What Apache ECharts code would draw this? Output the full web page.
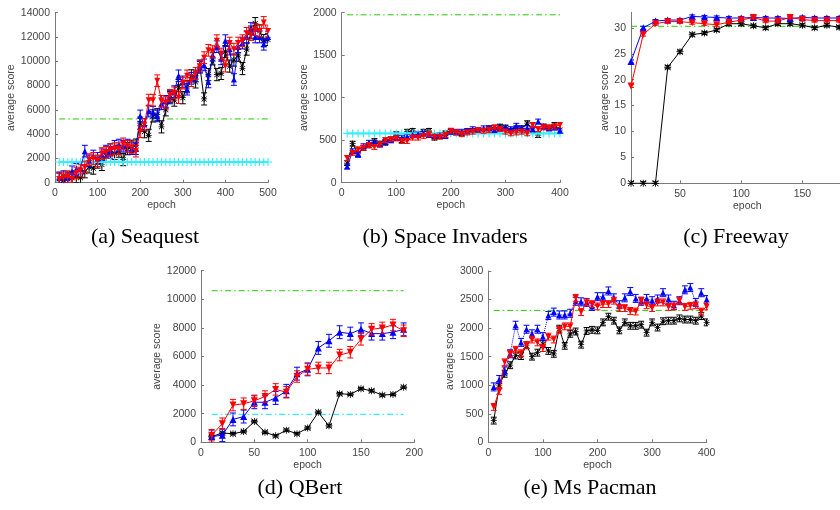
<!DOCTYPE html>
<html><head><meta charset="utf-8">
<script src="https://cdn.jsdelivr.net/npm/echarts@6/dist/echarts.min.js"></script>
<style>html,body{margin:0;padding:0;background:#fff}#c{width:840px;height:510px}</style>
</head><body><div id="c"></div>
<script>
// ---------- DATA ----------
const seaquestEpochs = [10,20,30,40,50,60,70,80,90,100,110,120,130,140,150,160,170,180,190,200,210,220,230,240,250,260,270,280,290,300,310,320,330,340,350,360,370,380,390,400,410,420,430,440,450,460,470,480,490,500];
const seaquestBlack = [300,200,300,400,500,400,900,1300,1200,1700,1500,2200,2700,2400,2600,1900,2800,3000,3100,4900,4200,3900,5500,5600,4600,6000,7000,6800,8000,7000,7900,8800,8300,9600,6900,8900,10200,8900,9000,10800,9600,10100,10500,9400,11000,12400,13100,12500,11700,11800];
const seaquestBlue = [400,500,400,900,1100,1200,2600,1800,2200,2000,2300,2600,2500,3000,3100,3000,3100,2800,2800,5500,4800,5900,5800,5500,6500,6700,7100,7500,8800,8300,7700,8600,8800,9500,9700,8300,10500,11200,10200,11700,11000,8500,11200,11500,12000,12700,12000,12000,11400,12000];
const seaquestRed = [300,400,500,300,800,1000,1300,1900,2000,1800,2400,2500,2700,2800,2800,3200,3000,2900,2600,4200,4800,6800,6800,8400,6700,6600,7200,7400,7000,8200,8800,8400,9000,9600,10300,10900,10800,11700,10600,9600,11500,11000,11500,11700,12300,12200,12600,12500,13200,12500];
const seaquestErr = {black: 500, blue: 480, red: 480};
const seaquestGreen = 5250, seaquestCyan = 1700;

const spaceEpochs = [10,20,30,40,50,60,70,80,90,100,110,120,130,140,150,160,170,180,190,200,210,220,230,240,250,260,270,280,290,300,310,320,330,340,350,360,370,380,390,400];
const spaceBlack = [230,460,340,410,440,490,460,470,510,570,500,600,610,560,600,610,530,550,580,600,590,580,600,610,620,610,640,620,660,650,610,640,640,700,620,560,660,640,680,620];
const spaceBlue = [190,370,330,430,470,470,450,480,500,530,530,540,560,570,580,560,550,560,550,600,600,600,610,630,620,640,640,620,640,640,630,670,640,640,630,720,660,640,650,610];
const spaceRed = [290,350,390,410,440,420,450,500,510,520,490,490,530,530,550,570,540,540,560,610,590,570,590,600,620,610,620,650,630,600,580,590,600,580,680,630,650,650,660,680];
const spaceErr = {black: 28, blue: 28, red: 28};
const spaceGreen = 1975, spaceCyan = 580;

const freewayEpochs = [10,20,30,40,50,60,70,80,90,100,110,120,130,140,150,160,170,180,190,200];
const freewayBlack = [0,0,0,22.4,25.4,28.7,29,29.6,30.8,30.8,30.4,30,30.8,30.8,30.5,30,30.5,30.1,30.2,30.2];
const freewayBlue = [23.5,30,31.3,31.5,31.5,32.2,32.1,32,31.9,31.9,32,31.9,31.9,31.8,32,31.9,31.9,31.9,31.9,31.9];
const freewayRed = [18.8,28.7,30.8,31.2,31.2,31,30.8,30.6,31.1,31.5,32,31.3,31.3,32,31.6,31.4,31.4,31.4,31.4,31.4];
const freewayErr = {black: 0.3, blue: 0.3, red: 0.3};
const freewayGreen = 30.3;

const qbertEpochs = [10,20,30,40,50,60,70,80,90,100,110,120,130,140,150,160,170,180,190];
const qbertBlack = [400,650,600,750,1450,700,450,850,600,1000,2100,1150,3400,3350,3750,3600,3300,3350,3850];
const qbertBlue = [400,500,1600,1800,2800,2800,3100,3600,4800,5100,6600,7100,7700,7600,7900,7600,7600,7700,7900];
const qbertRed = [500,1300,2600,2700,2900,3200,3700,3500,4600,5100,5200,5200,6100,6300,7200,7900,8000,8200,7800];
const qbertErr = {black: 80, blue: 450, red: 400};
const qbertGreen = 10600, qbertCyan = 1950;

const pacmanEpochs = [10,20,30,40,50,60,70,80,90,100,110,120,130,140,150,160,170,180,190,200,210,220,230,240,250,260,270,280,290,300,310,320,330,340,350,360,370,380,390,400];
const pacmanBlack = [380,1000,1200,1350,1520,1510,1700,1500,1570,1720,1600,1550,1990,1690,1900,1940,1710,1950,1970,1960,2100,2200,2130,1960,2100,2040,2040,2060,1920,2100,2010,2120,2130,2130,2170,2150,2150,2130,2210,2100];
const pacmanBlue = [970,1100,1250,1550,2050,1750,1980,1900,1980,1850,2220,2280,2230,2230,2260,2470,2460,2450,2380,2550,2550,2650,2530,2410,2530,2640,2520,2470,2520,2480,2510,2620,2510,2400,2480,2670,2710,2450,2620,2500];
const pacmanRed = [620,900,1400,1550,1620,1560,1700,1800,1750,1650,1850,1800,1970,2030,2030,2530,2280,2450,2420,2380,2420,2420,2480,2350,2350,2300,2290,2480,2400,2350,2450,2450,2370,2380,2480,2370,2390,2400,2290,2380];
const pacmanErr = {black: 60, blue: 70, red: 60};
const pacmanGreen = 2310;

const titles = ['(a) Seaquest', '(b) Space Invaders', '(c) Freeway', '(d) QBert', '(e) Ms Pacman'];
const xTicksFreeway = [50, 100, 150, 200];
const yTicksFreeway = [0, 5, 10, 15, 20, 25, 30];

// ---------- STYLE / LAYOUT ----------
const C_BLACK = '#000000', C_BLUE = '#0000ff', C_RED = '#ff0000', C_CYAN = '#33eeff', C_GREEN = '#22cc00';
const ASTER = 'path://M0,4.4H10V5.6H0Z M4.4,0H5.6V10H4.4Z M1.2,0.4L9.6,8.8L8.8,9.6L0.4,1.2Z M8.8,0.4L9.6,1.2L1.2,9.6L0.4,8.8Z';
const PLUS = 'path://M0,4.3H10V5.7H0Z M4.3,0H5.7V10H4.3Z';
const DASHDOT = [6, 3, 1.5, 3];
const FONT = 'Liberation Sans, Arial, sans-serif';

const grids = [
  {left: 55, top: 12.7, width: 213, height: 170},
  {left: 341.7, top: 12.7, width: 218.3, height: 170},
  {left: 631, top: 12.3, width: 232.6, height: 171},
  {left: 201, top: 270.7, width: 213.3, height: 171.6},
  {left: 488.3, top: 271, width: 218.4, height: 171.3}
];
const yNameGaps = [31, 27, 16, 31, 28];
const xRanges = [[0, 500, 100], [0, 400, 100], [10, 200, null], [0, 200, 50], [0, 400, 100]];
const yRanges = [[0, 14000, 2000], [0, 2000, 500], [0, 33, null], [0, 12000, 2000], [0, 3000, 500]];

function axisCommon() {
  return {
    axisLine: {show: true, lineStyle: {color: '#7a7a7a', width: 1}},
    axisTick: {show: true, inside: true, length: 3, lineStyle: {color: '#7a7a7a'}},
    axisLabel: {color: '#454545', fontSize: 10.5, fontFamily: FONT, margin: 5, formatter: v => String(v)},
    splitLine: {show: false},
    nameTextStyle: {color: '#454545', fontSize: 10.5, fontFamily: FONT}
  };
}

const xAxes = xRanges.map((r, i) => {
  const ax = Object.assign(axisCommon(), {
    type: 'value', gridIndex: i, min: r[0], max: r[1],
    name: 'epoch', nameLocation: 'middle', nameGap: 16
  });
  if (r[2] !== null) ax.interval = r[2];
  else {
    ax.axisLabel.customValues = xTicksFreeway;
    ax.axisTick.customValues = xTicksFreeway;
  }
  return ax;
});
const yAxes = yRanges.map((r, i) => {
  const ax = Object.assign(axisCommon(), {
    type: 'value', gridIndex: i, min: r[0], max: r[1],
    name: 'average score', nameLocation: 'middle', nameGap: yNameGaps[i]
  });
  if (r[2] !== null) ax.interval = r[2];
  else {
    ax.axisLabel.customValues = yTicksFreeway;
    ax.axisTick.customValues = yTicksFreeway;
  }
  return ax;
});

function lineS(idx, xs, ys, color, symbol, opts) {
  opts = opts || {};
  return {
    type: 'line', xAxisIndex: idx, yAxisIndex: idx,
    data: xs.map((x, k) => [x, ys[k]]),
    symbol: symbol, symbolSize: opts.size || 6, symbolRotate: opts.rotate || 0,
    showSymbol: symbol !== 'none',
    lineStyle: {color: color, width: opts.width || 1, type: opts.lineType || 'solid'},
    itemStyle: {color: color},
    z: opts.z || 3, silent: true, animation: false, clip: true
  };
}
function errS(idx, xs, ys, err, color, z) {
  return {
    type: 'custom', xAxisIndex: idx, yAxisIndex: idx, silent: true, animation: false, clip: true, z: z || 2,
    data: xs.map((x, k) => [x, ys[k], err]),
    encode: {x: 0, y: 1},
    renderItem: function (params, api) {
      const x = api.value(0), y = api.value(1), e = api.value(2);
      const lo = api.coord([x, y - e]), hi = api.coord([x, y + e]);
      const w = 3;
      const st = {stroke: color, lineWidth: 1};
      return {type: 'group', children: [
        {type: 'line', shape: {x1: lo[0], y1: lo[1], x2: hi[0], y2: hi[1]}, style: st},
        {type: 'line', shape: {x1: lo[0] - w, y1: lo[1], x2: lo[0] + w, y2: lo[1]}, style: st},
        {type: 'line', shape: {x1: hi[0] - w, y1: hi[1], x2: hi[0] + w, y2: hi[1]}, style: st}
      ]};
    }
  };
}
function hline(idx, x0, x1, v, color, type, width) {
  return {
    type: 'line', xAxisIndex: idx, yAxisIndex: idx, data: [[x0, v], [x1, v]],
    symbol: 'none', lineStyle: {color: color, width: width || 1, type: type}, z: 1, silent: true, animation: false
  };
}
function cyanPlus(idx, xs, v) {
  return {
    type: 'line', xAxisIndex: idx, yAxisIndex: idx, data: xs.map(x => [x, v]),
    symbol: PLUS, symbolSize: 8, lineStyle: {color: C_CYAN, width: 2}, itemStyle: {color: C_CYAN},
    z: 4, silent: true, animation: false
  };
}
function game(idx, xs, blk, blu, red, err, o) {
  o = o || {};
  const s = [];
  s.push(errS(idx, xs, blk, err.black, C_BLACK, 2));
  s.push(lineS(idx, xs, blk, C_BLACK, ASTER, {size: o.size || 7, z: 3}));
  s.push(errS(idx, xs, blu, err.blue, C_BLUE, 4));
  s.push(lineS(idx, xs, blu, C_BLUE, 'triangle', {size: o.size || 7, z: 5, lineType: o.blueType}));
  s.push(errS(idx, xs, red, err.red, C_RED, 6));
  s.push(lineS(idx, xs, red, C_RED, 'triangle', {size: o.size || 7, rotate: 180, z: 7}));
  return s;
}

const series = [].concat(
  [hline(0, 10, 500, seaquestGreen, C_GREEN, DASHDOT), cyanPlus(0, seaquestEpochs, seaquestCyan)],
  game(0, seaquestEpochs, seaquestBlack, seaquestBlue, seaquestRed, seaquestErr, {size: 6}),
  [hline(1, 10, 400, spaceGreen, C_GREEN, DASHDOT), cyanPlus(1, spaceEpochs, spaceCyan)],
  game(1, spaceEpochs, spaceBlack, spaceBlue, spaceRed, spaceErr, {size: 6}),
  [hline(2, 10, 200, freewayGreen, C_GREEN, DASHDOT)],
  game(2, freewayEpochs, freewayBlack, freewayBlue, freewayRed, freewayErr, {size: 7}),
  [hline(3, 10, 190, qbertGreen, C_GREEN, DASHDOT), hline(3, 10, 190, qbertCyan, C_CYAN, DASHDOT, 1.2)],
  game(3, qbertEpochs, qbertBlack, qbertBlue, qbertRed, qbertErr, {size: 7}),
  [hline(4, 10, 400, pacmanGreen, C_GREEN, DASHDOT)],
  game(4, pacmanEpochs, pacmanBlack, pacmanBlue, pacmanRed, pacmanErr, {size: 6, blueType: 'dotted'})
);

const titlePos = [[145, 237], [445, 237], [736, 237], [300, 488], [590, 488]];
const graphic = titles.map((t, i) => ({
  type: 'text', x: titlePos[i][0], y: titlePos[i][1], silent: true,
  style: {text: t, fontFamily: 'Liberation Serif, Times New Roman, serif', fontSize: 22, fill: '#000',
          align: 'center', verticalAlign: 'middle'}
}));

const chart = echarts.init(document.getElementById('c'), null, {renderer: 'canvas'});
chart.setOption({
  backgroundColor: '#ffffff',
  animation: false,
  grid: grids.map(g => Object.assign({containLabel: false, outerBoundsMode: 'none'}, g)),
  xAxis: xAxes,
  yAxis: yAxes,
  series: series,
  graphic: graphic
});
</script></body></html>
